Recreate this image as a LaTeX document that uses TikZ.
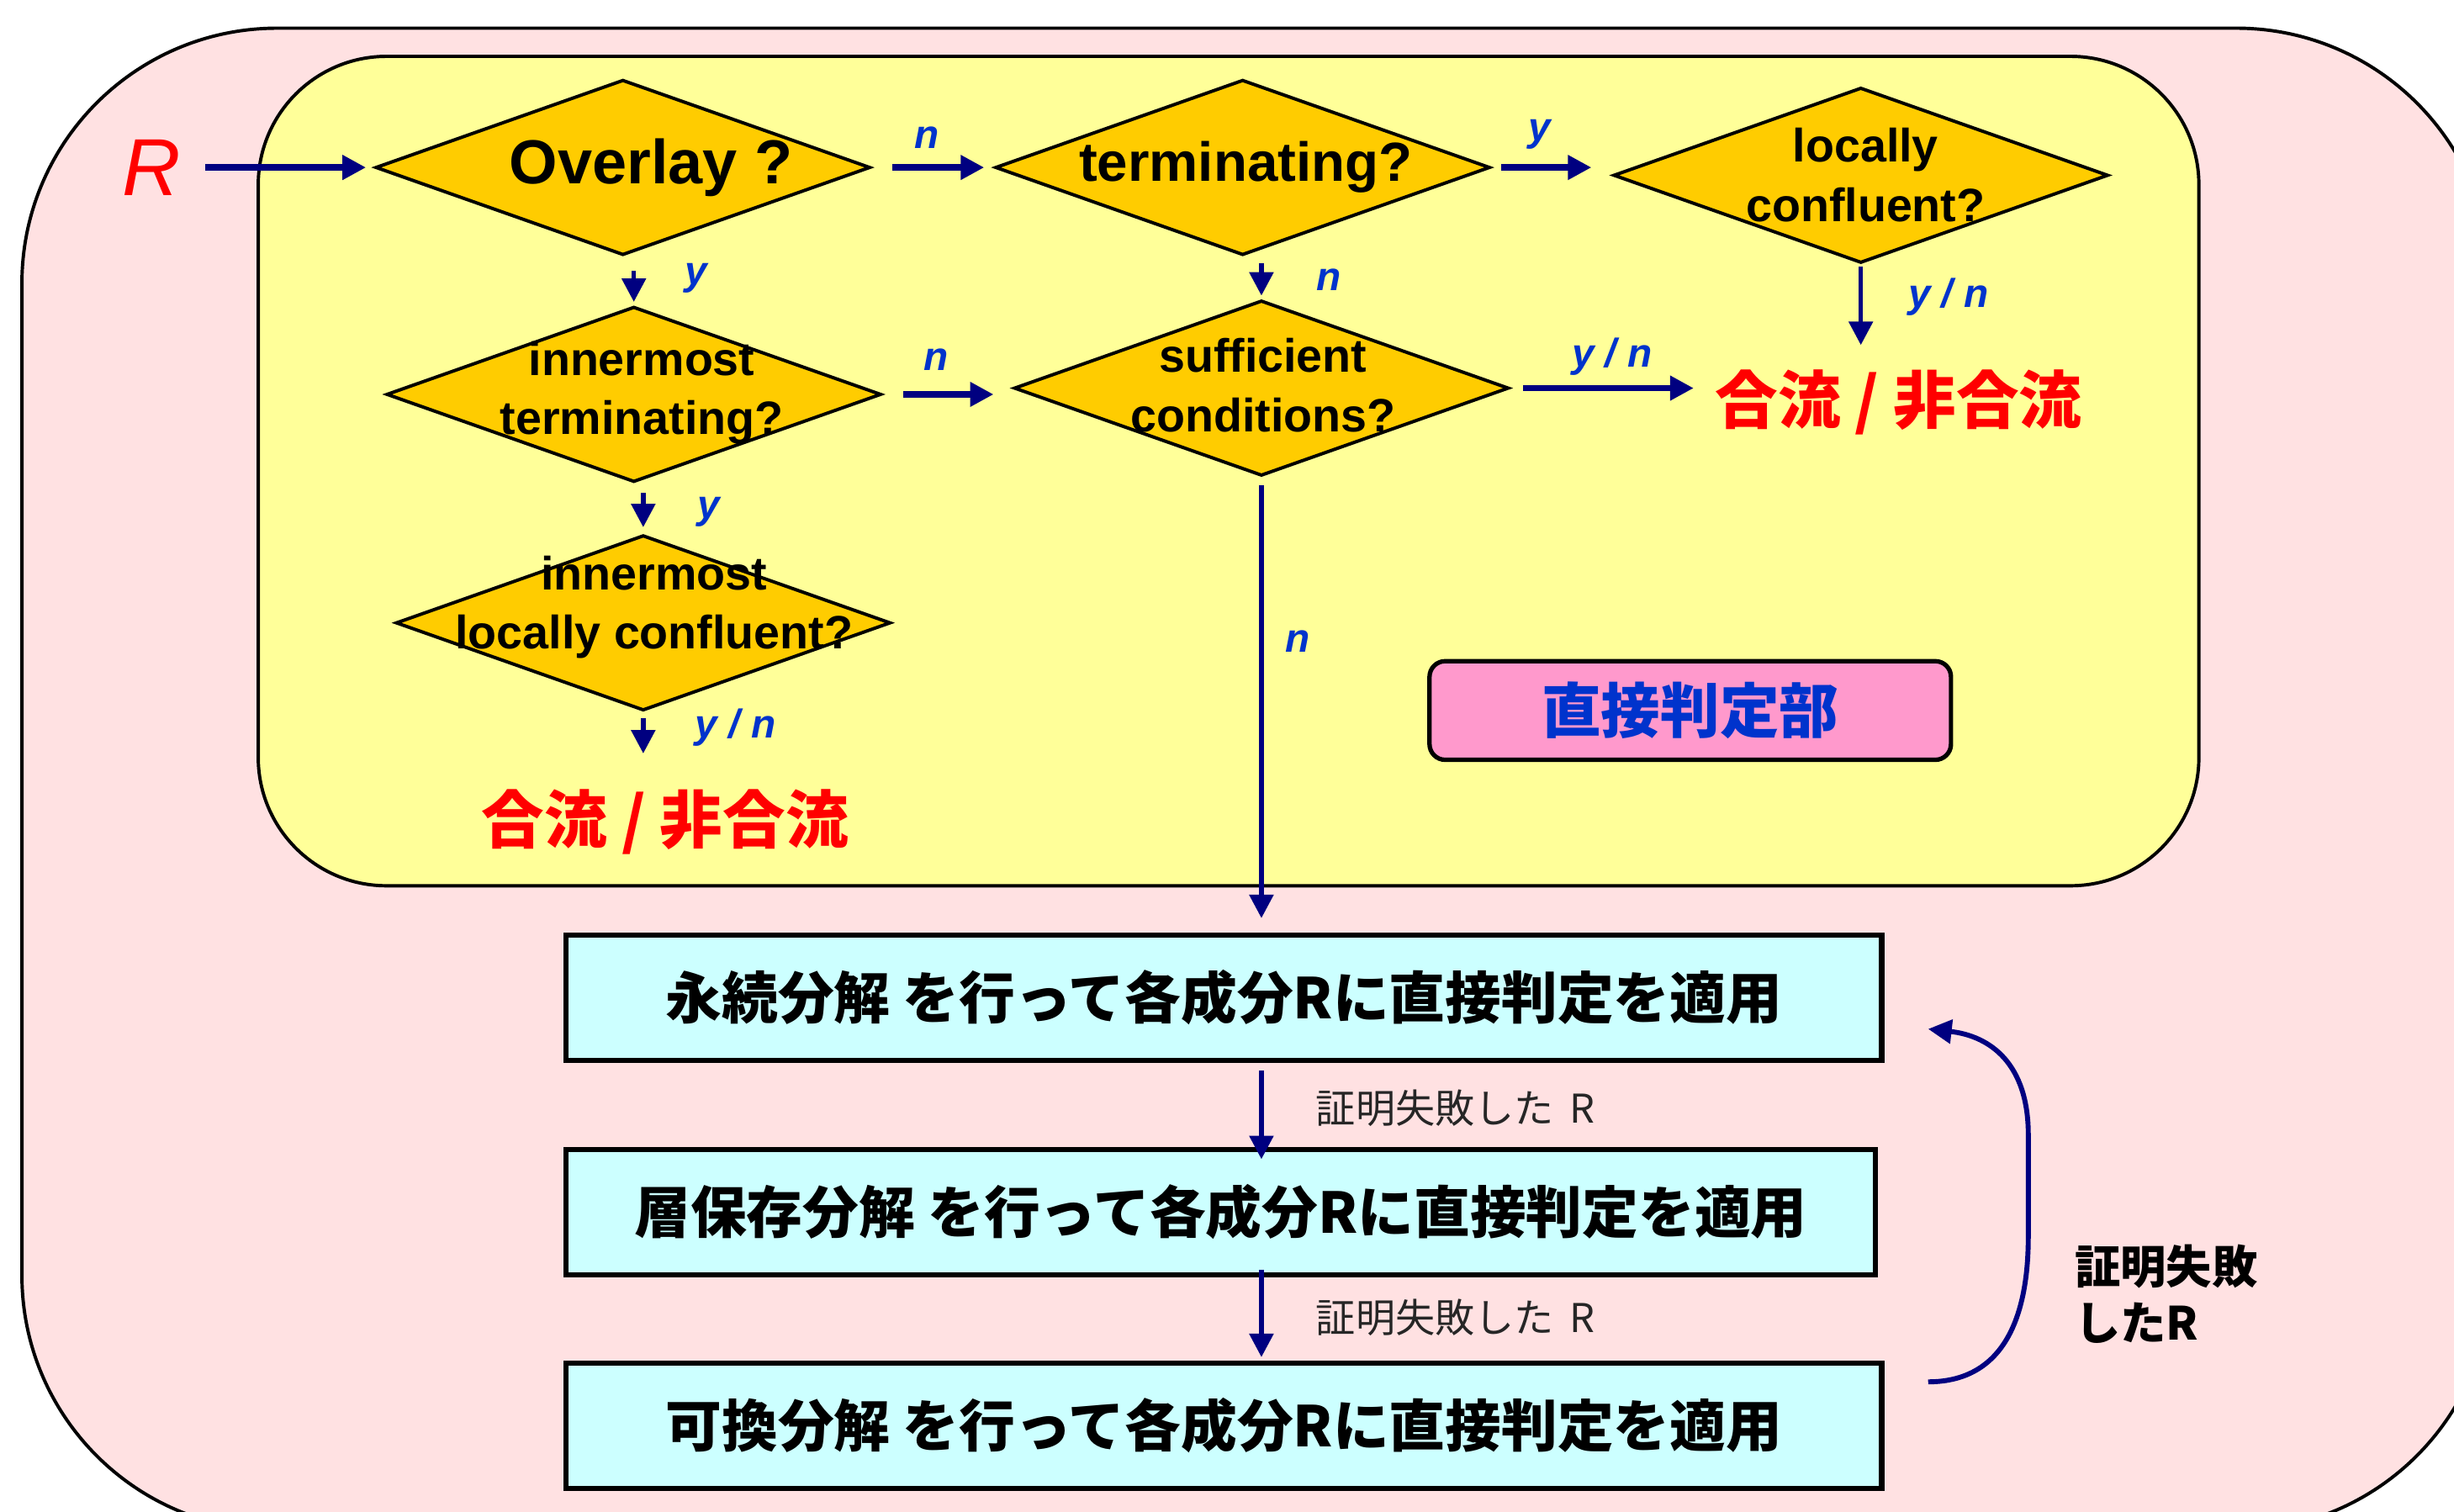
\documentclass[tikz,border=0pt]{standalone}
\usepackage{fontspec}
\setmainfont{Liberation Sans}
\newfontfamily\jp{Noto Sans CJK JP}
\usetikzlibrary{shapes.geometric,arrows.meta}

\definecolor{outerpink}{RGB}{255,225,226}
\definecolor{paleyellow}{RGB}{255,255,153}
\definecolor{gold}{RGB}{255,204,0}
\definecolor{palecyan}{RGB}{204,255,255}
\definecolor{boxpink}{RGB}{255,153,204}
\definecolor{navy}{RGB}{0,0,128}
\definecolor{labblue}{RGB}{0,51,204}

\begin{document}
\begin{tikzpicture}[x=0.01cm, y=-0.01cm,
    >={Triangle[length=0.15cm,width=0.15cm]},
    dia/.style={diamond, draw=black, line width=0.6pt, fill=gold, inner sep=0pt,
        minimum width=3.16cm, minimum height=1.12cm},
    dtxt/.style={font=\fontsize{8.5}{10.8}\selectfont\bfseries, align=center, inner sep=0pt},
    yn/.style={font=\fontsize{7.3}{8}\selectfont\bfseries\itshape, text=labblue, inner sep=0pt},
    res/.style={font=\jp\fontsize{11.4}{13}\selectfont\bfseries, text=red, inner sep=0pt},
    procbox/.style={draw=black, line width=1pt, fill=palecyan, minimum width=8.4cm,
        minimum height=0.8cm, inner sep=0pt, font=\jp\fontsize{10.2}{12}\selectfont\bfseries},
    fail/.style={font=\jp\fontsize{7.2}{9}\selectfont, text=black!85, inner sep=0pt},
    harr/.style={->, navy, line width=1.15pt},
    varr/.style={->, navy, line width=0.85pt}]
    \useasboundingbox (0,0) rectangle (1568,966);
    % 绘制背景
    \draw[fill=outerpink, line width=0.6pt, rounded corners=1.63cm] (14,18) rectangle (1592,978);
    \draw[fill=paleyellow, line width=0.6pt, rounded corners=0.82cm] (165,36) rectangle (1405,566);
    % 绘制菱形
    \node[dia] (ov) at (398,107) {};
    \node[dia] (term) at (794,107) {};
    \node[dia] (lc) at (1189,112) {};
    \node[dia] (it) at (405,252) {};
    \node[dia] (suff) at (806,248) {};
    \node[dia] (ilc) at (411,398) {};
    % 菱形文字
    \node[dtxt, font=\fontsize{11.3}{13}\selectfont\bfseries] (ovt) at (416,107) {Overlay ?};
    \node[dtxt, font=\fontsize{10}{12}\selectfont\bfseries] (termt) at (796,107) {terminating?};
    \node[dtxt] (lct) at (1192,112) {locally\\confluent?};
    \node[dtxt] (itt) at (410,251) {innermost\\terminating?};
    \node[dtxt] (sufft) at (807,246) {sufficient\\conditions?};
    \node[dtxt] (ilct) at (418,388) {innermost\\locally confluent?};
    % 其他节点
    \node[text=red, font=\fontsize{14.7}{16}\selectfont\itshape, inner sep=0pt] (r) at (97,107) {R};
    \node[res] (res1) at (1213,257) {合流 / 非合流};
    \node[res] (res2) at (425,525) {合流 / 非合流};
    \node[draw=black, line width=0.8pt, fill=boxpink, rounded corners=0.1cm, minimum width=3.33cm,
        minimum height=0.63cm, inner sep=0pt, text=labblue,
        font=\jp\fontsize{10.8}{12}\selectfont\bfseries] (direct) at (1080,454) {直接判定部};
    \node[procbox] (b1) at (782,637.5) {永続分解 を行って各成分Rに直接判定を適用};
    \node[procbox, minimum width=8.36cm] (b2) at (780,774.5) {層保存分解 を行って各成分Rに直接判定を適用};
    \node[procbox] (b3) at (782,911) {可換分解 を行って各成分Rに直接判定を適用};
    \node[fail] (f1) at (930,708) {証明失敗した\hspace{0.4em}R};
    \node[fail] (f2) at (930,842) {証明失敗した\hspace{0.4em}R};
    \node[font=\jp\fontsize{8.3}{10.2}\selectfont\bfseries, align=left, inner sep=0pt, anchor=west] (f3) at (1325,827) {証明失敗\\したR};
    % 标记 y/n
    \node[yn] (l1) at (592,88) {n};
    \node[yn] (l2) at (984,86) {y};
    \node[yn] (l3) at (445,178) {y};
    \node[yn] (l4) at (849,179) {n};
    \node[yn] (l5) at (1245,190) {y / n};
    \node[yn] (l6) at (598,230) {n};
    \node[yn] (l7) at (1030,228) {y / n};
    \node[yn] (l8) at (453,327) {y};
    \node[yn] (l9) at (470,465) {y / n};
    \node[yn] (l10) at (829,410) {n};
    % 绘制箭头
    \draw[harr, shorten <=0.15cm, shorten >=0.05cm] (r) -- (ov);
    \draw[harr, shorten <=0.13cm, shorten >=0.06cm] (ov) -- (term);
    \draw[harr, shorten <=0.06cm, shorten >=0.13cm] (term.east) -- (term.east -| lc.west);
    \draw[harr, shorten <=0.13cm, shorten >=0.12cm] (it.east) -- (it.east -| suff.west);
    \draw[harr, shorten <=0.08cm, shorten >=0.13cm] (suff.east) -- (suff.east -| res1.west);
    \draw[varr, shorten <=0.09cm, shorten >=0.02cm] (ov.south -| it.north) -- (it.north);
    \draw[varr, shorten <=0.04cm, shorten >=0.02cm] (term.south -| suff.north) -- (suff.north);
    \draw[varr, shorten <=0.01cm, shorten >=0.15cm] (lc.south) -- (lc.south |- res1.north);
    \draw[varr, shorten <=0.06cm, shorten >=0.04cm] (it.south -| ilc.north) -- (ilc.north);
    \draw[varr, shorten <=0.04cm, shorten >=0.22cm] (ilc.south) -- (ilc.south |- res2.north);
    \draw[varr, shorten <=0.05cm, shorten >=0.09cm] (suff.south) -- (suff.south |- b1.north);
    \draw[varr, shorten <=0.05cm, shorten >=-0.08cm] (b1.south -| suff.south) -- (b2.north -| suff.south);
    \draw[varr, shorten <=-0.05cm, shorten >=0.02cm] (b2.south -| suff.south) -- (b3.north -| suff.south);
    % 回到第一步的箭头
    \coordinate (back0) at ([shift={(0.28cm,0.28cm)}]b3.east);
    \coordinate (back1) at ([shift={(0.28cm,-0.2cm)}]b1.east);
    \draw[->, navy, line width=0.9pt] (back0) .. controls (1275,883) and (1296,850) .. (1296,790)
        -- (1296,725) .. controls (1296,680) and (1272,662) .. (back1);
\end{tikzpicture}
\end{document}
